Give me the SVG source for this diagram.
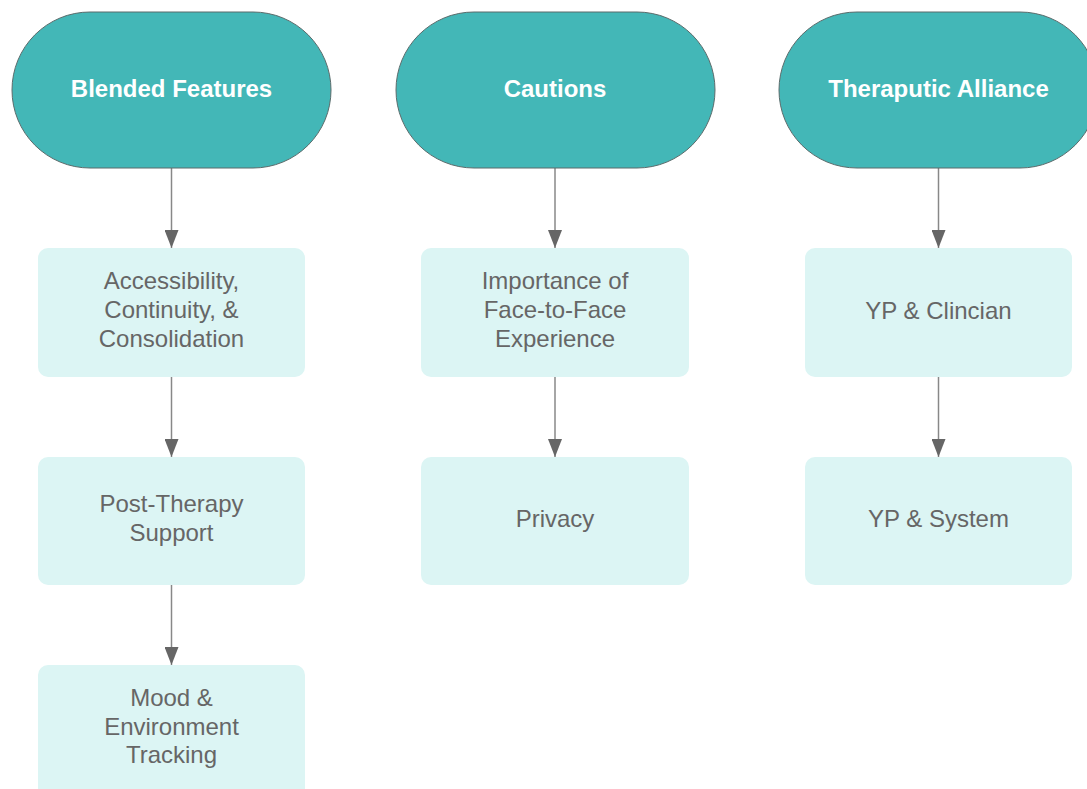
<svg xmlns="http://www.w3.org/2000/svg" width="1087" height="789" viewBox="0 0 1087 789">
<defs>
<style>
.hdr{fill:#43b7b7;stroke:#5b6b6b;stroke-width:1}
.box{fill:#dcf5f4}
.ht{font-family:"Liberation Sans",Arial,sans-serif;font-size:24px;font-weight:bold;fill:#ffffff;text-anchor:middle}
.bt{font-family:"Liberation Sans",Arial,sans-serif;font-size:24px;fill:#666666;text-anchor:middle}
.con{stroke:#888888;stroke-width:1.5;fill:none}
</style>
<marker id="ah" viewBox="0 0 18 14" markerWidth="18" markerHeight="14" refX="18" refY="7" orient="auto" markerUnits="userSpaceOnUse">
<path d="M0,0 L18,7 L0,14 Z" fill="#666666"/>
</marker>
</defs>
<rect width="1087" height="789" fill="#ffffff"/>
<g id="connectors">
<path class="con" d="M171.5,168 V248" marker-end="url(#ah)"/>
<path class="con" d="M171.5,377 V457" marker-end="url(#ah)"/>
<path class="con" d="M171.5,585 V665" marker-end="url(#ah)"/>
<path class="con" d="M555,168 V248" marker-end="url(#ah)"/>
<path class="con" d="M555,377 V457" marker-end="url(#ah)"/>
<path class="con" d="M938.5,168 V248" marker-end="url(#ah)"/>
<path class="con" d="M938.5,377 V457" marker-end="url(#ah)"/>
</g>
<g id="h1"><rect class="hdr" x="12" y="12" width="319" height="156" rx="78" ry="78"/><text class="ht" x="171.5" y="97">Blended Features</text></g>
<g id="h2"><rect class="hdr" x="396" y="12" width="319" height="156" rx="78" ry="78"/><text class="ht" x="555" y="97">Cautions</text></g>
<g id="h3"><rect class="hdr" x="779" y="12" width="319" height="156" rx="78" ry="78"/><text class="ht" x="938.5" y="97">Theraputic Alliance</text></g>
<g id="b1"><rect class="box" x="38" y="248" width="267" height="129" rx="10"/><text class="bt" x="171.5" y="289">Accessibility,</text><text class="bt" x="171.5" y="318">Continuity, &amp;</text><text class="bt" x="171.5" y="347">Consolidation</text></g>
<g id="b2"><rect class="box" x="38" y="457" width="267" height="128" rx="10"/><text class="bt" x="171.5" y="512">Post-Therapy</text><text class="bt" x="171.5" y="541">Support</text></g>
<g id="b3"><rect class="box" x="38" y="665" width="267" height="135" rx="10"/><text class="bt" x="171.5" y="706">Mood &amp;</text><text class="bt" x="171.5" y="735">Environment</text><text class="bt" x="171.5" y="763">Tracking</text></g>
<g id="c1"><rect class="box" x="421" y="248" width="268" height="129" rx="10"/><text class="bt" x="555" y="289">Importance of</text><text class="bt" x="555" y="318">Face-to-Face</text><text class="bt" x="555" y="347">Experience</text></g>
<g id="c2"><rect class="box" x="421" y="457" width="268" height="128" rx="10"/><text class="bt" x="555" y="527">Privacy</text></g>
<g id="t1"><rect class="box" x="805" y="248" width="267" height="129" rx="10"/><text class="bt" x="938.5" y="319">YP &amp; Clincian</text></g>
<g id="t2"><rect class="box" x="805" y="457" width="267" height="128" rx="10"/><text class="bt" x="938.5" y="527">YP &amp; System</text></g>
</svg>
